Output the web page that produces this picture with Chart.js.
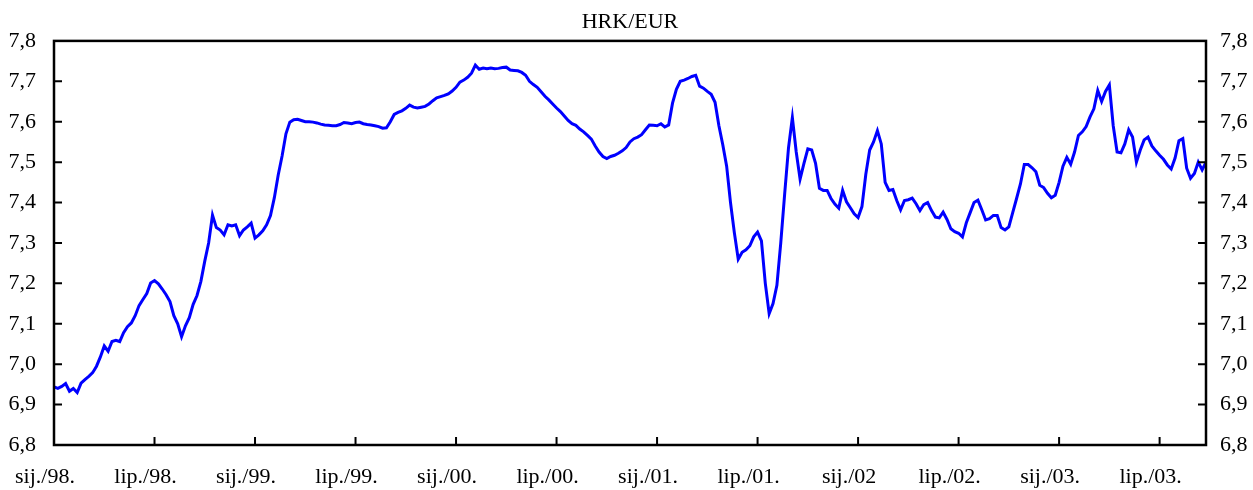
<!DOCTYPE html>
<html>
<head>
<meta charset="utf-8">
<script src="https://cdn.jsdelivr.net/npm/chart.js@4.4.1/dist/chart.umd.min.js"></script>
<style>
  body { margin: 0; background: #fff; }
  #wrap { width: 1253px; height: 490px; }
</style>
</head>
<body>
<div id="wrap"><canvas id="myChart"></canvas></div>
<script>
// weekly HRK/EUR readings, sij./98. -> rujan 2003
var tickLabels = ["sij./98.", "lip./98.", "sij./99.", "lip./99.", "sij./00.", "lip./00.",
                  "sij./01.", "lip./01.", "sij./02", "lip./02.", "sij./03.", "lip./03."];
var weeksPerTick = 26;

var rate1998 = [6.944, 6.94, 6.945, 6.952, 6.933, 6.94, 6.93, 6.953, 6.962, 6.97,
                6.979, 6.995, 7.018, 7.045, 7.032, 7.056, 7.059, 7.056, 7.078, 7.093,
                7.102, 7.12, 7.145, 7.16, 7.175, 7.201, 7.207, 7.199, 7.186, 7.172,
                7.155, 7.12, 7.10, 7.068, 7.095, 7.115, 7.148, 7.17, 7.205, 7.255,
                7.30, 7.369, 7.338, 7.332, 7.32, 7.345, 7.342, 7.345, 7.318, 7.332,
                7.34, 7.349];
var rate1999 = [7.312, 7.32, 7.33, 7.345, 7.368, 7.412, 7.468, 7.515, 7.57, 7.599,
                7.605, 7.606, 7.603, 7.60, 7.60, 7.599, 7.597, 7.594, 7.592, 7.591,
                7.59, 7.59, 7.593, 7.598, 7.597, 7.595, 7.598, 7.599, 7.595, 7.593,
                7.592, 7.59, 7.588, 7.584, 7.585, 7.60, 7.618, 7.623, 7.627, 7.633,
                7.641, 7.636, 7.634, 7.636, 7.638, 7.644, 7.652, 7.659, 7.662, 7.665];
var rate2000 = [7.669, 7.676, 7.685, 7.698, 7.703, 7.71, 7.72, 7.74, 7.73, 7.733,
                7.731, 7.733, 7.731, 7.732, 7.734, 7.735, 7.728, 7.727, 7.726, 7.722,
                7.715, 7.70, 7.692, 7.685, 7.674, 7.663, 7.654, 7.644, 7.634, 7.625,
                7.614, 7.603, 7.595, 7.591, 7.582, 7.575, 7.566, 7.557, 7.54, 7.525,
                7.514, 7.509, 7.514, 7.517, 7.522, 7.528, 7.536, 7.55, 7.558, 7.562];
var rate2001 = [7.568, 7.58, 7.592, 7.591, 7.59, 7.595, 7.587, 7.592, 7.646, 7.68,
                7.70, 7.703, 7.707, 7.712, 7.715, 7.688, 7.683, 7.675, 7.668, 7.648,
                7.59, 7.543, 7.49, 7.40, 7.325, 7.26, 7.277, 7.283, 7.293, 7.315,
                7.327, 7.305, 7.20, 7.125, 7.15, 7.195, 7.30, 7.42, 7.535, 7.61,
                7.525, 7.458, 7.497, 7.533, 7.53, 7.497, 7.435, 7.43, 7.43, 7.41,
                7.396, 7.386];
var rate2002 = [7.43, 7.402, 7.387, 7.372, 7.363, 7.39, 7.47, 7.53, 7.55, 7.578,
                7.545, 7.45, 7.43, 7.432, 7.405, 7.382, 7.405, 7.407, 7.411, 7.397,
                7.38, 7.395, 7.40, 7.38, 7.364, 7.362, 7.376, 7.358, 7.335, 7.328,
                7.324, 7.315, 7.35, 7.375, 7.40, 7.406, 7.382, 7.357, 7.36, 7.368,
                7.368, 7.338, 7.332, 7.34, 7.375, 7.41, 7.446, 7.494, 7.494, 7.486,
                7.476, 7.443, 7.437, 7.423, 7.412, 7.418];
var rate2003 = [7.45, 7.49, 7.512, 7.495, 7.525, 7.566, 7.575, 7.588, 7.612, 7.632,
                7.677, 7.65, 7.675, 7.691, 7.59, 7.525, 7.523, 7.545, 7.58, 7.562,
                7.50, 7.53, 7.555, 7.562, 7.54, 7.528, 7.517, 7.507, 7.493, 7.483,
                7.51, 7.553, 7.558, 7.485, 7.46, 7.472, 7.50, 7.481, 7.50];

var rates = rate1998.concat(rate1999, rate2000, rate2001, rate2002, rate2003);

function comma(v) {
    return v.toFixed(1).replace('.', ',');
}

// frame round the plot and short tick marks pointing inwards
var framePlugin = {
    id: 'frame',
    afterDraw: function(chart) {
        var ctx = chart.ctx;
        var a = chart.chartArea;
        var xs = chart.scales.x, yl = chart.scales.y, yr = chart.scales.y2;
        ctx.save();
        ctx.strokeStyle = '#000';
        ctx.lineWidth = 2;
        ctx.beginPath();
        xs.ticks.forEach(function(t) {
            var px = xs.getPixelForValue(t.value);
            if (px <= a.left + 1) return;
            ctx.moveTo(px, a.bottom);
            ctx.lineTo(px, a.bottom - 8);
        });
        yl.ticks.forEach(function(t) {
            var py = yl.getPixelForValue(t.value);
            ctx.moveTo(a.left, py);
            ctx.lineTo(a.left + 8, py);
        });
        yr.ticks.forEach(function(t) {
            var py = yr.getPixelForValue(t.value);
            ctx.moveTo(a.right, py);
            ctx.lineTo(a.right - 8, py);
        });
        ctx.stroke();
        ctx.lineWidth = 2.5;
        ctx.strokeRect(a.left, a.top, a.right - a.left, a.bottom - a.top);
        ctx.restore();
    }
};

Chart.defaults.font.family = "'Liberation Serif', 'Times New Roman', serif";
Chart.defaults.font.size = 22;
Chart.defaults.color = '#000';

var config = {
    type: 'line',
    data: {
        datasets: [{
            label: 'HRK/EUR',
            data: rates.map(function(v, i) { return { x: i, y: v }; }),
            borderColor: '#0000ff',
            borderWidth: 3,
            pointRadius: 0,
            tension: 0,
            fill: false
        }]
    },
    options: {
        responsive: true,
        maintainAspectRatio: false,
        animation: false,
        layout: { padding: 0 },
        plugins: {
            legend: { display: false },
            tooltip: { enabled: false },
            title: {
                display: true,
                text: 'HRK/EUR',
                fullSize: false,
                font: { size: 22, weight: 'normal' },
                padding: { top: 9.5, bottom: 5 }
            }
        },
        scales: {
            x: {
                type: 'linear',
                min: 0,
                max: rates.length - 1,
                grid: { display: false },
                border: { display: false },
                afterBuildTicks: function(scale) {
                    scale.ticks = tickLabels.map(function(_, k) { return { value: k * weeksPerTick }; });
                },
                afterFit: function(scale) { scale.height = 45; },
                ticks: {
                    autoSkip: false,
                    maxRotation: 0,
                    padding: 11,
                    labelOffset: -9,
                    callback: function(v) { return tickLabels[Math.round(v / weeksPerTick)]; }
                }
            },
            y: {
                position: 'left',
                min: 6.8,
                max: 7.8,
                grid: { display: false },
                border: { display: false },
                afterFit: function(scale) { scale.width = 54; },
                ticks: { stepSize: 0.1, padding: 10, callback: function(v) { return comma(v); } }
            },
            y2: {
                position: 'right',
                min: 6.8,
                max: 7.8,
                grid: { display: false },
                border: { display: false },
                afterFit: function(scale) { scale.width = 47; },
                ticks: { stepSize: 0.1, padding: 6, callback: function(v) { return comma(v); } }
            }
        }
    },
    plugins: [framePlugin]
};

window.onload = function() {
    var ctx = document.getElementById('myChart').getContext('2d');
    window.myLine = new Chart(ctx, config);
};
</script>
</body>
</html>
